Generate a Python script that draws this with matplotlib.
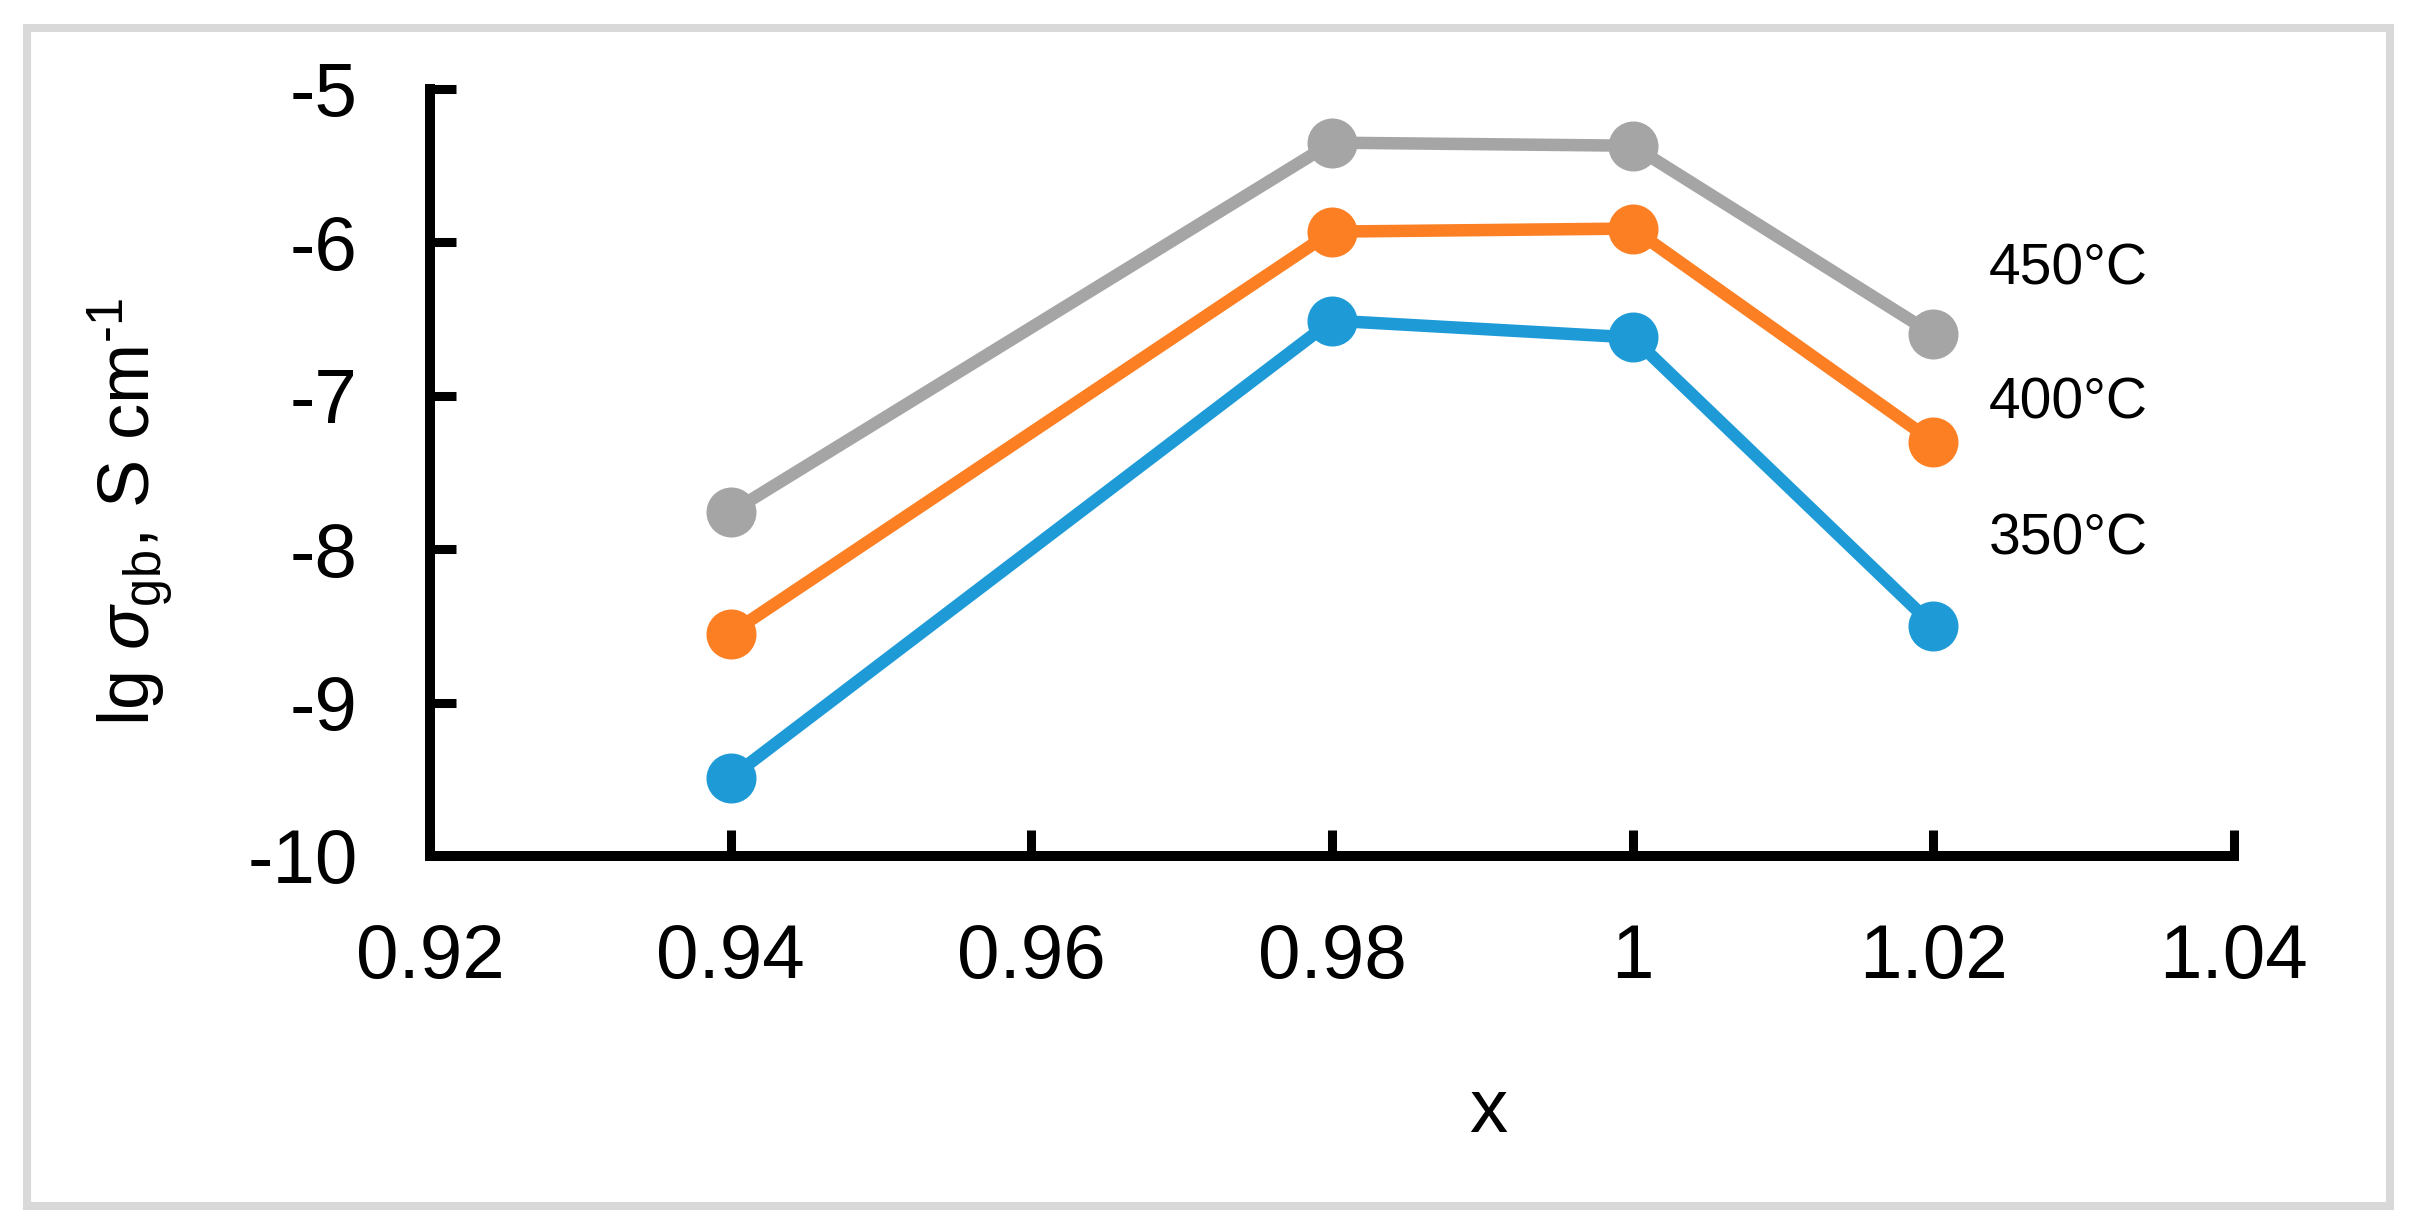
import matplotlib
matplotlib.use("Agg")
import matplotlib.pyplot as plt
from matplotlib.patches import Rectangle

plt.rcParams["font.family"] = ["Liberation Sans", "DejaVu Sans"]
plt.rcParams["mathtext.fontset"] = "custom"
plt.rcParams["mathtext.rm"] = "Liberation Sans"
plt.rcParams["mathtext.it"] = "Liberation Sans:italic"
plt.rcParams["axes.unicode_minus"] = False

# data
x = [0.94, 0.98, 1.00, 1.02]
t450 = [-7.76, -5.35, -5.37, -6.60]
t400 = [-8.55, -5.93, -5.91, -7.30]
t350 = [-9.49, -6.51, -6.62, -8.50]
labels = ["450°C", "400°C", "350°C"]
label_y = [-6.18, -7.05, -7.94]
xticks = [0.92, 0.94, 0.96, 0.98, 1.00, 1.02, 1.04]
xtick_labels = ["0.92", "0.94", "0.96", "0.98", "1", "1.02", "1.04"]
yticks = [-10, -9, -8, -7, -6, -5]

colors = ["#A5A5A5", "#FD7F23", "#1E9BD7"]

fig = plt.figure(figsize=(24.18, 12.27), dpi=100)
ax = fig.add_axes([0.1778, 0.3024, 0.7461, 0.6251])

for ys, c in zip([t450, t400, t350], colors):
    ax.plot(x, ys, color=c, lw=9, marker="o", ms=35, mec=c, mfc=c,
            solid_capstyle="butt", clip_on=False, zorder=3)

for lab, yy in zip(labels, label_y):
    ax.text(1.0237, yy, lab, fontsize=41, ha="left", va="center")

ax.set_xlim(0.92, 1.04)
ax.set_ylim(-10, -5)
ax.set_xticks(xticks)
ax.set_xticklabels(xtick_labels)
ax.set_yticks(yticks)

for s in ["top", "right"]:
    ax.spines[s].set_visible(False)
for s in ["left", "bottom"]:
    ax.spines[s].set_linewidth(7.2)
    ax.spines[s].set_capstyle("projecting")

ax.tick_params(axis="x", direction="in", length=19, width=6.5, labelsize=55, pad=48)
ax.tick_params(axis="y", direction="in", length=19, width=6.5, labelsize=55, pad=52)

fig.text(131 / 2418, 1 - 512 / 1227, r"lg $\mathit{\sigma}_{\mathrm{gb}}$, S cm$^{\text{-}1}$",
         fontsize=52, rotation=90, ha="center", va="center")
fig.text(1488 / 2418, 1 - 1113 / 1227, "x", fontsize=55, ha="center", va="center")

# light gray frame around the whole figure
fig.patches.append(Rectangle((0.01117, 0.01711), 0.97725, 0.96007, transform=fig.transFigure,
                             fill=False, edgecolor="#D9D9D9", lw=5.8))

fig.savefig("out.png", dpi=100)
